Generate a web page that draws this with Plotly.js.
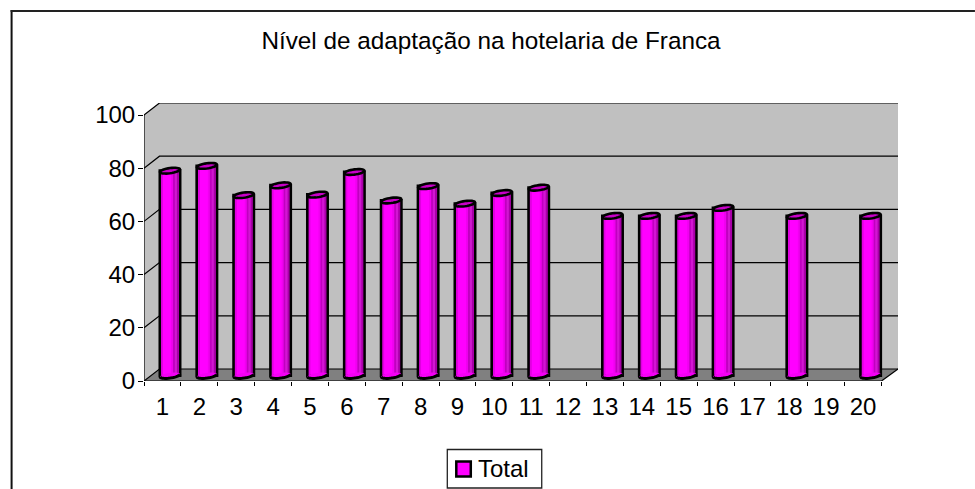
<!DOCTYPE html>
<html><head><meta charset="utf-8">
<script src="https://cdn.plot.ly/plotly-3.0.1.min.js"></script>
<style>html,body{margin:0;padding:0;background:#fff;overflow:hidden}#c{width:975px;height:489px}</style>
</head><body><div id="c"></div>
<script>
const categories = ["1","2","3","4","5","6","7","8","9","10","11","12","13","14","15","16","17","18","19","20"];
const totals = [77,78.8,67.8,71.5,68,76.5,65.8,71.2,64.6,68.6,70.6,null,60,60,60,63,null,60,null,60];
const yTicks = [0,20,40,60,80,100];
const seriesName = "Total";
const titleText = "Nível de adaptação na hotelaria de Franca";
const stripColors = ["#e000e0","#ff00ff","#ff00ff","#ff00ff","#ff00ff","#f000f0","#c000c0","#d018d0","#a800a8"];

const L=143.5,R=898,T=103,B=381;
const pxX=36.9,pxY=2.66;
const depthX=15.5/pxX,depthY=12/pxY;
const xMax=0.5+(R-L)/pxX,yMax=(B-T)/pxY;
const shiftX=7.55/pxX,shiftY=5.5/pxY;
const idx=categories.map((c,i)=>i+1);
const W=20/pxX, stripW=(W-0.03)/stripColors.length;

const traces=[{type:'bar',name:seriesName,x:idx,y:totals,xaxis:'x2',yaxis:'y2',width:W,
  marker:{color:'#ff00ff',line:{color:'#000',width:3}},showlegend:false,hoverinfo:'y'}];
stripColors.forEach((col,k)=>traces.push({type:'bar',x:idx,y:totals,xaxis:'x2',yaxis:'y2',
  width:stripW,offset:-W/2+0.03+k*(W-0.06)/stripColors.length,marker:{color:col,line:{width:0}},showlegend:false,hoverinfo:'skip'}));

const shapes=[];
const S=(o)=>shapes.push(Object.assign({xref:'x',yref:'y',layer:'below'},o));
const poly=(pts,close)=>'M'+pts.map(p=>p[0]+','+p[1]).join('L')+(close?'Z':'');
// wall and floor
S({type:'path',path:poly([[0.5,0],[0.5+depthX,depthY],[xMax,depthY],[xMax,100+depthY],[0.5+depthX,100+depthY],[0.5,100]],true),fillcolor:'#c0c0c0',line:{width:0}});
S({type:'path',path:poly([[0.5,0],[0.5+depthX,depthY],[xMax,depthY],[20.5,0]],true),fillcolor:'#808080',line:{width:0}});
yTicks.forEach(v=>{
  S({type:'path',path:poly([[0.5,v],[0.5+depthX,v+depthY],[xMax,v+depthY]]),line:{color:'#000',width:1.2}});
});
// front axis lines
S({type:'line',x0:0.5,x1:0.5,y0:0,y1:100,line:{color:'#000',width:1.2}});
S({type:'line',x0:0.5,x1:20.5,y0:0,y1:0,line:{color:'#000',width:1.2}});
S({type:'line',x0:20.5,x1:xMax,y0:0,y1:depthY,line:{color:'#000',width:1.2}});
// cylinder ends
const a=W/2,bPx=2.6,tilt=1.3;
function ell(i,v,t0,t1,n){const p=[];for(let j=0;j<=n;j++){const t=t0+(t1-t0)*j/n;
  p.push([(idx[i]+a*Math.cos(t)).toFixed(4),(v+(bPx*Math.sin(t)+tilt*Math.cos(t))/pxY).toFixed(4)]);}return p;}
totals.forEach((v,i)=>{
  if(v===null)return;
  const A={xref:'x2',yref:'y2',layer:'above',type:'path'};
  shapes.push(Object.assign({},A,{path:poly(ell(i,0,0,2*Math.PI,32),true),fillcolor:'#f400f4',line:{width:0}}));
  shapes.push(Object.assign({},A,{path:poly(ell(i,0,Math.PI,2*Math.PI,18)),line:{color:'#000',width:3}}));
  shapes.push(Object.assign({},A,{path:poly(ell(i,v,0,2*Math.PI,32),true),fillcolor:'#c800c8',line:{color:'#000',width:2.6}}));
});
// outer frame
const fx=p=>(p-L)/(R-L), fy=p=>(B-p)/(B-T);
const P=(o)=>shapes.push(Object.assign({xref:'paper',yref:'paper'},o));
P({type:'line',x0:fx(11),x1:fx(11),y0:fy(10),y1:fy(489),line:{color:'#111',width:2},layer:'below'});
P({type:'line',x0:fx(10),x1:fx(975),y0:fy(11),y1:fy(11),line:{color:'#222',width:2},layer:'below'});
// legend
P({type:'rect',x0:fx(447),x1:fx(541.5),y0:fy(449.5),y1:fy(488),line:{color:'#222',width:1.3},fillcolor:'#fff',layer:'above'});
P({type:'rect',x0:fx(456),x1:fx(470.5),y0:fy(461.5),y1:fy(476.5),line:{color:'#000',width:2.5},fillcolor:'#ff00ff',layer:'above'});

const font={family:'"Liberation Sans",Arial,sans-serif',color:'#000'};
const layout={
  width:975,height:489,paper_bgcolor:'#fff',plot_bgcolor:'rgba(0,0,0,0)',
  margin:{l:L,r:975-R,t:T,b:489-B,pad:0,autoexpand:false},
  barmode:'overlay',
  title:{text:titleText,font:Object.assign({},font,{size:24.3}),x:491/975,xref:'container',xanchor:'center',y:1-40/489,yref:'container',yanchor:'middle'},
  xaxis:{type:'linear',range:[0.5,xMax],tickmode:'array',tickvals:idx,ticktext:categories,ticks:'outside',ticklen:4,tickcolor:'rgba(0,0,0,0)',
    showgrid:false,zeroline:false,showline:false,tickfont:Object.assign({},font,{size:24}),tickangle:0,fixedrange:true},
  xaxis3:{overlaying:'x',anchor:'y',type:'linear',range:[0.5,xMax],tickmode:'array',tickvals:idx.map(i=>i-0.5).concat([20.5]),ticktext:[],ticks:'outside',ticklen:4,tickwidth:1,tickcolor:'#000',
    showticklabels:false,showgrid:false,zeroline:false,showline:false},
  xaxis2:{overlaying:'x',anchor:'y2',type:'linear',range:[0.5-shiftX,xMax-shiftX],visible:false},
  yaxis:{range:[0,yMax],tickmode:'array',tickvals:yTicks,ticks:'outside',ticklen:5,tickwidth:1,tickcolor:'#000',ticklabelstandoff:-2,
    showgrid:false,zeroline:false,showline:false,tickfont:Object.assign({},font,{size:24}),fixedrange:true},
  yaxis2:{overlaying:'y',anchor:'x2',range:[-shiftY,yMax-shiftY],visible:false},
  shapes:shapes,
  showlegend:false,
  annotations:[{text:seriesName,xref:'paper',yref:'paper',x:fx(476.5),y:fy(468),xanchor:'left',yanchor:'middle',showarrow:false,font:Object.assign({},font,{size:24}),borderpad:0}]
};
traces.push({type:'scatter',x:[],y:[],xaxis:'x3',yaxis:'y',showlegend:false,hoverinfo:'skip'});
Plotly.newPlot('c',traces,layout,{displayModeBar:false,responsive:false});
</script></body></html>
